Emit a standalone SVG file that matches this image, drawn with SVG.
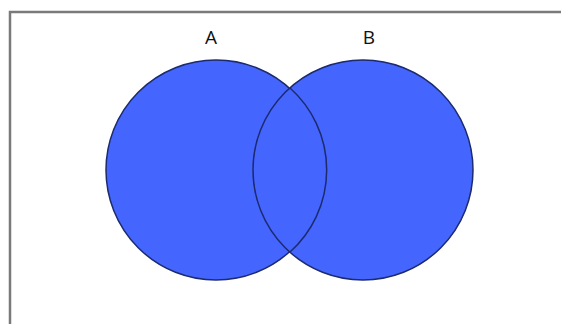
<svg xmlns="http://www.w3.org/2000/svg" width="561" height="324" viewBox="0 0 561 324">
<style>
.frame{fill:none;stroke:#7a7a7a;stroke-width:2.5}
.set{fill:#4466ff;stroke:#1c2a6e;stroke-width:1.5}
.lbl{font-family:"Open Sans","Liberation Sans",sans-serif;font-size:19px;fill:#111;text-anchor:middle}
</style>
<rect width="561" height="324" fill="#ffffff"/>
<rect class="frame" x="10" y="12" width="560" height="330"/>
<g id="setA"><circle class="set" cx="216" cy="170" r="110"/><text class="lbl" x="211" y="44">A</text></g>
<g id="setB"><circle class="set" cx="363" cy="170" r="110"/><text class="lbl" x="369" y="44">B</text></g>
<g id="overlap"><path d="M290,88 A110,110 0 0 1 290,252" fill="none" stroke="#1c2a6e" stroke-width="1.5"/></g>
<g id="connectors"></g>
</svg>
